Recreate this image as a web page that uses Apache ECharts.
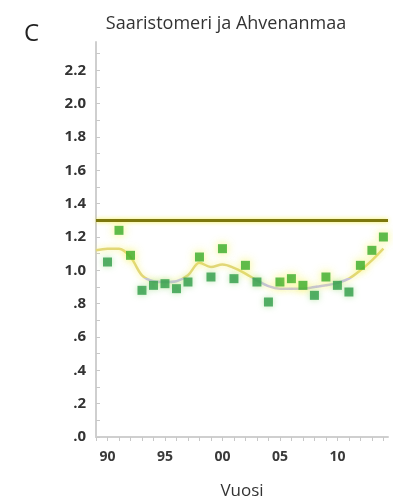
<!DOCTYPE html>
<html>
<head>
<meta charset="utf-8">
<script src="https://cdn.jsdelivr.net/npm/echarts@6/dist/echarts.min.js"></script>
<style>
  html, body { margin: 0; padding: 0; background: #fff; }
  #main { width: 393px; height: 496px; }
</style>
</head>
<body>
<div id="main"></div>
<script>
// vuodet ja havaitut arvot
var years = [1990, 1991, 1992, 1993, 1994, 1995, 1996, 1997, 1998, 1999, 2000, 2001,
  2002, 2003, 2004, 2005, 2006, 2007, 2008, 2009, 2010, 2011, 2012, 2013, 2014];
var values = [1.05, 1.24, 1.09, 0.88, 0.91, 0.92, 0.89, 0.93, 1.08, 0.96, 1.13, 0.95,
  1.03, 0.93, 0.81, 0.93, 0.95, 0.91, 0.85, 0.96, 0.91, 0.87, 1.03, 1.12, 1.20];
// tasoitettu trendi
var smoothYears = [1989, 1990, 1991, 1992, 1993, 1994, 1995, 1996, 1997, 1998, 1999, 2000,
  2001, 2002, 2003, 2004, 2005, 2006, 2007, 2008, 2009, 2010, 2011, 2012, 2013, 2014];
var smoothValues = [1.12, 1.13, 1.13, 1.08, 0.97, 0.935, 0.93, 0.935, 0.97, 1.045, 1.02, 1.035,
  1.015, 0.98, 0.94, 0.905, 0.89, 0.89, 0.89, 0.90, 0.91, 0.925, 0.95, 1.00, 1.06, 1.13];
var refLevel = 1.305;
var colorSplit = 0.955;

var chart = echarts.init(document.getElementById('main'));

var smoothData = smoothYears.map(function (y, i) { return [y, smoothValues[i]]; });
var pointData = years.map(function (y, i) {
  var above = values[i] >= smoothValues[i + 1];
  return {
    value: [y, values[i]],
    itemStyle: {
      color: above ? '#38ab2a' : '#2f9c48',
      shadowColor: above ? 'rgba(240,240,60,0.95)' : 'rgba(150,220,130,0.8)',
      shadowBlur: above ? 10 : 6
    }
  };
});

chart.setOption({
  animation: false,
  title: [{
    text: 'C',
    left: 19, top: 17,
    textStyle: { fontFamily: 'Open Sans', fontSize: 24, fontWeight: 'normal', color: '#222' }
  }, {
    text: 'Saaristomeri ja Ahvenanmaa',
    left: 221, top: 10, textAlign: 'center',
    textStyle: { fontFamily: 'Open Sans', fontSize: 18, fontWeight: 'normal', color: '#333' }
  }],
  grid: { left: 96, right: 5, top: 42, bottom: 59, outerBoundsMode: 'none' },
  xAxis: {
    type: 'value',
    min: 1989, max: 2014.4, interval: 1,
    name: 'Vuosi', nameLocation: 'middle', nameGap: 46,
    nameTextStyle: { fontFamily: 'Open Sans', fontSize: 17, color: '#333' },
    axisLine: { lineStyle: { color: '#cfcfcf', width: 2 } },
    axisTick: { length: 4, lineStyle: { color: '#c8c8c8' } },
    axisLabel: {
      showMaxLabel: false, margin: 13,
      fontFamily: 'Open Sans', fontSize: 14, fontWeight: 'bold', color: '#3a3a3a',
      formatter: function (v) {
        return v % 5 === 0 ? String(v).slice(2) : '';
      }
    },
    splitLine: { show: false }
  },
  yAxis: {
    type: 'value',
    min: 0, max: 2.37, interval: 0.1,
    axisLine: { show: true, lineStyle: { color: '#cfcfcf', width: 2 } },
    axisTick: { show: true, inside: true, length: 4, lineStyle: { color: '#c8c8c8' } },
    axisLabel: {
      showMaxLabel: false, margin: 10,
      fontFamily: 'Open Sans', fontSize: 15, fontWeight: 'bold', color: '#333',
      formatter: function (v) {
        var n = Math.round(v * 10);
        if (n % 2 !== 0) return '';
        var s = (n / 10).toFixed(1);
        return v < 1 ? s.replace(/^0/, '') : s;
      }
    },
    splitLine: { show: false }
  },
  series: [{
    type: 'line',
    data: smoothData,
    smooth: 0.35,
    showSymbol: false,
    lineStyle: { width: 2.5, color: '#e2d777', shadowColor: 'rgba(245,240,90,0.7)', shadowBlur: 6 },
    z: 2
  }, {
    type: 'line',
    data: [],
    markLine: {
      silent: true,
      symbol: 'none',
      label: { show: false },
      lineStyle: { color: '#7d780e', width: 3, type: 'solid',
        shadowColor: 'rgba(240,235,60,0.9)', shadowBlur: 4 },
      data: [{ yAxis: refLevel }]
    }
  }, {
    type: 'scatter',
    data: pointData,
    symbol: 'rect',
    symbolSize: 9,
    z: 3
  }]
});

// trendiviivan väri vaihtuu tason colorSplit kohdalla
var topPx = chart.convertToPixel({ gridIndex: 0 }, [1989, 1.3])[1];
var splitPx = chart.convertToPixel({ gridIndex: 0 }, [1989, colorSplit])[1];
var botPx = chart.convertToPixel({ gridIndex: 0 }, [1989, 0.7])[1];
var f = (splitPx - topPx) / (botPx - topPx);
chart.setOption({
  series: [{
    lineStyle: {
      color: {
        type: 'linear', global: true, x: 0, y: topPx, x2: 0, y2: botPx,
        colorStops: [
          { offset: 0, color: '#e2d777' },
          { offset: f, color: '#e2d777' },
          { offset: f, color: '#c9c3d9' },
          { offset: 1, color: '#c9c3d9' }
        ]
      }
    }
  }]
});
</script>
</body>
</html>
